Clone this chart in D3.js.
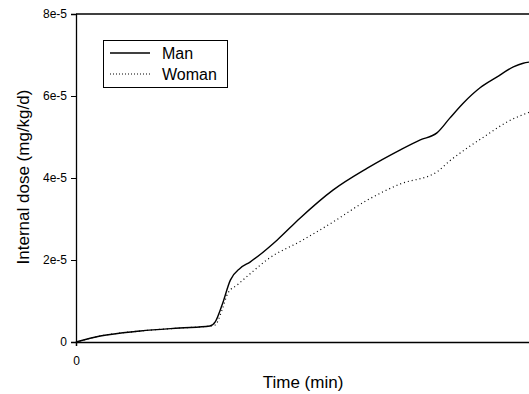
<!DOCTYPE html>
<html>
<head>
<meta charset="utf-8">
<script src="https://cdn.jsdelivr.net/npm/d3@7/dist/d3.min.js"></script>
<style>
  body { margin: 0; background: #fff; }
  svg { display: block; font-family: "Liberation Sans", Arial, sans-serif; }
</style>
</head>
<body>
<svg id="chart" width="529" height="394"></svg>
<script>
// time (min) and internal dose (mg/kg/d)
const manTime = [0, 32, 85, 137, 177, 184, 193, 204, 217, 230, 266, 296, 340, 385, 428, 455, 477, 494, 512, 534, 556, 578, 591, 600];
const manDose = [0, 0.146e-5, 0.268e-5, 0.341e-5, 0.39e-5, 0.49e-5, 0.9e-5, 1.51e-5, 1.8e-5, 1.95e-5, 2.49e-5, 3.02e-5, 3.71e-5, 4.24e-5, 4.68e-5, 4.93e-5, 5.1e-5, 5.46e-5, 5.83e-5, 6.2e-5, 6.46e-5, 6.71e-5, 6.8e-5, 6.83e-5];
const womanTime = [0, 32, 85, 137, 177, 184, 193, 201, 213, 233, 252, 300, 340, 385, 428, 477, 494, 517, 543, 570, 600];
const womanDose = [0, 0.146e-5, 0.268e-5, 0.341e-5, 0.39e-5, 0.415e-5, 0.78e-5, 1.2e-5, 1.39e-5, 1.71e-5, 2.0e-5, 2.49e-5, 2.93e-5, 3.46e-5, 3.85e-5, 4.15e-5, 4.42e-5, 4.73e-5, 5.05e-5, 5.37e-5, 5.61e-5];
const yTicks = [0, 2e-5, 4e-5, 6e-5, 8e-5];
const yTickLabels = ['0', '2e-5', '4e-5', '6e-5', '8e-5'];
const xTicks = [0];
const seriesNames = ['Man', 'Woman'];

const svg = d3.select('#chart');
const m = {left: 76, top: 14, right: 530, bottom: 342};

const x = d3.scaleLinear().domain([0, 600]).range([m.left, m.right]);
const y = d3.scaleLinear().domain([0, 8e-5]).range([m.bottom, m.top]);

// axes
const yAxis = d3.axisLeft(y).tickValues(yTicks).tickSize(5).tickPadding(4)
  .tickFormat((d, i) => yTickLabels[i]);
svg.append('g').attr('transform', `translate(${m.left},0)`).call(yAxis)
  .call(g => g.select('.domain').attr('stroke-width', 1.3))
  .selectAll('text').attr('font-size', 12).attr('fill', '#000');

const xAxis = d3.axisBottom(x).tickValues(xTicks).tickSize(4).tickPadding(10)
  .tickFormat(d3.format('d'));
svg.append('g').attr('transform', `translate(0,${m.bottom})`).call(xAxis)
  .call(g => g.select('.domain').attr('stroke-width', 1.5))
  .selectAll('text').attr('font-size', 12).attr('fill', '#000');

// top frame line
svg.append('line')
  .attr('x1', m.left).attr('x2', m.right)
  .attr('y1', m.top).attr('y2', m.top)
  .attr('stroke', '#000').attr('stroke-width', 1.3);

// axis titles
svg.append('text')
  .attr('x', 303).attr('y', 388)
  .attr('text-anchor', 'middle')
  .attr('font-size', 17)
  .text('Time (min)');

svg.append('text')
  .attr('transform', 'translate(29,177) rotate(-90)')
  .attr('text-anchor', 'middle')
  .attr('font-size', 17)
  .text('Internal dose (mg/kg/d)');

// lines
const line = d3.line()
  .x(d => x(d[0]))
  .y(d => y(d[1]))
  .curve(d3.curveMonotoneX);

const manData = manTime.map((t, i) => [t, manDose[i]]);
const womanData = womanTime.map((t, i) => [t, womanDose[i]]);

svg.append('path')
  .datum(manData)
  .attr('d', line)
  .attr('fill', 'none')
  .attr('stroke', '#000')
  .attr('stroke-width', 1.4);

svg.append('path')
  .datum(womanData)
  .attr('d', line)
  .attr('fill', 'none')
  .attr('stroke', '#000')
  .attr('stroke-width', 1.2)
  .attr('stroke-dasharray', '1,3');

// legend
const legend = svg.append('g');
legend.append('rect')
  .attr('x', 103.5).attr('y', 40.5)
  .attr('width', 124).attr('height', 47)
  .attr('fill', '#fff')
  .attr('stroke', '#000').attr('stroke-width', 1);

seriesNames.forEach((name, i) => {
  const ly = 53 + i * 21;
  legend.append('line')
    .attr('x1', 110).attr('x2', 150)
    .attr('y1', ly).attr('y2', ly)
    .attr('stroke', '#000')
    .attr('stroke-width', i === 0 ? 1.4 : 1)
    .attr('stroke-dasharray', i === 0 ? null : '1,2');
  legend.append('text')
    .attr('x', 162).attr('y', ly + 6)
    .attr('font-size', 16)
    .text(name);
});
</script>
</body>
</html>
